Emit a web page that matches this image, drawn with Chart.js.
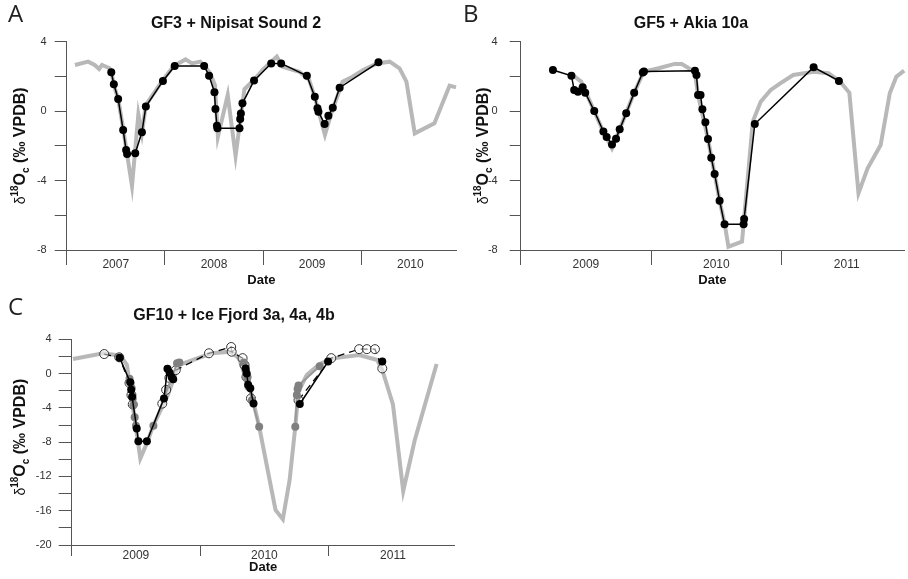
<!DOCTYPE html>
<html>
<head>
<meta charset="utf-8">
<script src="https://cdn.jsdelivr.net/npm/chart.js@4.4.1/dist/chart.umd.min.js"></script>
<style>
    body { margin: 0; background: #fff; width: 908px; height: 579px; overflow: hidden; position: relative; }
    canvas { position: absolute; }
</style>
</head>
<body>
<canvas id="panelA" width="460" height="290" style="left:0;top:0"></canvas>
<canvas id="panelB" width="448" height="290" style="left:460px;top:0"></canvas>
<canvas id="panelC" width="460" height="289" style="left:0;top:290px"></canvas>
<script>
const FONT = '"Liberation Sans", Arial, sans-serif';
const AXIS = '#555';

// Panel A - GF3 predicted vs Nipisat Sound 2 shell
const gf3Dates = [2007.084, 2007.218, 2007.285, 2007.33, 2007.36, 2007.436, 2007.454, 2007.48, 2007.524, 2007.575, 2007.61, 2007.665,
    2007.73, 2007.766, 2007.806, 2007.98, 2008.09, 2008.21, 2008.276, 2008.36, 2008.41, 2008.46, 2008.51, 2008.54, 2008.64, 2008.72,
    2008.81, 2008.915, 2009.0, 2009.14, 2009.20, 2009.37, 2009.47, 2009.527, 2009.63, 2009.69, 2009.81, 2009.91, 2010.02, 2010.16,
    2010.29, 2010.39, 2010.46, 2010.545, 2010.745, 2010.90, 2010.965];
const gf3Values = [2.66, 2.85, 2.66, 2.43, 2.66, 2.47, 2.3, 1.5, 0.7, -1.0, -2.3, -4.31,
    -0.18, -1.28, 0.35, 1.8, 2.6, 2.98, 2.75, 2.85, 2.56, 2.2, 1.5, -1.47, 0.93, -2.58,
    1.26, 1.85, 2.4, 3.14, 2.56, 2.27, 1.79, 0.8, -1.37, -0.22, 1.70, 1.98, 2.37, 2.75,
    2.85, 2.47, 1.70, -1.28, -0.70, 1.47, 1.37];
const nipisatDates = [2007.454, 2007.48, 2007.524, 2007.575, 2007.605, 2007.615, 2007.698, 2007.766, 2007.806, 2007.98, 2008.10,
    2008.40, 2008.45, 2008.505, 2008.515, 2008.53, 2008.535, 2008.76, 2008.767, 2008.774, 2008.79, 2008.908, 2009.083, 2009.184,
    2009.446, 2009.527, 2009.554, 2009.564, 2009.627, 2009.665, 2009.71, 2009.78, 2010.175];
const nipisatValues = [2.24, 1.55, 0.70, -1.09, -2.24, -2.47, -2.43, -1.22, 0.26, 1.74, 2.60,
    2.60, 2.04, 1.09, 0.12, -0.84, -0.99, -0.99, -0.45, -0.13, 0.45, 1.76, 2.75, 2.75,
    2.04, 0.83, 0.16, -0.03, -0.74, -0.26, 0.20, 1.35, 2.81];

// Panel B - GF5 predicted vs Akia 10a shell
const gf5Dates = [2009.39, 2009.463, 2009.564, 2009.634, 2009.70, 2009.759, 2009.87, 2009.943, 2010.057, 2010.18, 2010.235, 2010.335,
    2010.36, 2010.436, 2010.525, 2010.563, 2010.593, 2010.697, 2010.78, 2010.84, 2010.917, 2010.99, 2011.09, 2011.246, 2011.36,
    2011.45, 2011.52, 2011.59, 2011.66, 2011.76, 2011.83, 2011.88, 2011.94];
const gf5Values = [2.14, 1.70, 0.0, -1.2, -2.14, -1.05, 1.06, 2.27, 2.47, 2.72, 2.72, 2.27,
    0.9, -1.6, -5.16, -6.46, -7.81, -7.52, -0.6, 0.54, 1.22, 1.60, 2.08, 2.27, 2.18,
    1.70, 1.06, -4.73, -3.29, -1.95, 1.03, 1.98, 2.33];
const akiaDates = [2009.247, 2009.389, 2009.41, 2009.439, 2009.475, 2009.495, 2009.564, 2009.634, 2009.659, 2009.70, 2009.731,
    2009.759, 2009.809, 2009.87, 2009.936, 2009.945, 2010.336, 2010.348, 2010.360, 2010.379, 2010.393, 2010.416, 2010.436,
    2010.461, 2010.487, 2010.525, 2010.563, 2010.709, 2010.713, 2010.795, 2011.246, 2011.44];
const akiaValues = [2.37, 2.04, 1.22, 1.11, 1.37, 1.06, 0.01, -1.17, -1.49, -1.92, -1.59,
    -1.05, -0.12, 1.06, 2.23, 2.28, 2.32, 2.08, 0.93, 0.93, 0.11, -0.64, -1.60,
    -2.68, -3.62, -5.16, -6.52, -6.52, -6.21, -0.74, 2.53, 1.74];

// Panel C - GF10 predicted vs Ice Fjord 3a, 4a, 4b (null = gap in the shell record)
const gf10Dates = [2009.01, 2009.245, 2009.38, 2009.43, 2009.534, 2009.59, 2009.634, 2009.743, 2009.833, 2010.088, 2010.24, 2010.30,
    2010.395, 2010.459, 2010.586, 2010.643, 2010.696, 2010.74, 2010.765, 2010.829, 2010.93, 2011.034, 2011.238, 2011.378,
    2011.417, 2011.50, 2011.58, 2011.67, 2011.84];
const gf10Values = [1.7, 2.37, 2.09, 1.0, -9.89, -7.95, -6.08, -2.7, 1.0, 2.37, 2.56, 1.8,
    -2.11, -6.2, -15.9, -17.0, -12.4, -6.2, -2.11, -0.17, 1.12, 1.78, 2.17, 1.58,
    0.42, -3.6, -13.7, -7.75, 1.12];
const ice3aDates = [2009.373, 2009.455, 2009.463, 2009.47, 2009.506, 2009.519, 2009.585, 2009.718, 2009.745, 2009.762, 2009.778,
    2009.79, null, 2010.354, 2010.362, 2010.373, 2010.39, 2010.415, null, 2010.775, 2010.995, null, 2011.417];
const ice3aValues = [1.86, -1.0, -1.9, -2.7, -6.4, -7.9, -7.9, -2.9, 0.55, 0.1, -0.4,
    -0.65, null, 0.6, 0.0, -1.3, -1.7, -3.5, null, -3.55, 1.4, null, 1.4];
const ice4aDates = [2009.45, 2009.467, 2009.475, 2009.48, 2009.49, 2009.50, null, 2009.636, 2009.82, 2009.838, null, 2010.34, 2010.355,
    2010.365, 2010.375, 2010.402, 2010.459, null, 2010.74, 2010.752, 2010.758, 2010.765, 2010.93];
const ice4aValues = [-0.6, -1.7, -2.9, -3.7, -5.1, -6.1, null, -6.1, 1.2, 1.3, null, 1.3, 0.3,
    -0.6, -1.5, -3.1, -6.2, null, -6.2, -2.5, -1.8, -1.4, 0.85];
const ice4bDates = [2009.253, 2009.37, 2009.45, 2009.465, 2009.475, null, 2009.705, 2009.735, 2009.76, 2009.81, 2010.068, 2010.241,
    2010.245, 2010.33, 2010.345, 2010.36, 2010.395, null, 2010.765, 2011.02, 2011.237, 2011.297, 2011.36, 2011.417];
const ice4bValues = [2.28, 1.9, -1.1, -2.5, -3.6, null, -3.5, -1.9, -0.5, 0.4, 2.37, 3.1,
    2.55, 1.8, 1.0, -0.4, -2.9, null, -3.1, 1.8, 2.85, 2.85, 2.85, 0.6];

// axis ticks
const yTicksAB = [-8, -6, -4, -2, 0, 2, 4];
const yTicksC = [-20, -18, -16, -14, -12, -10, -8, -6, -4, -2, 0, 2, 4];
const yearsA = [2007, 2008, 2009, 2010];
const yearsBC = [2009, 2010, 2011];

function series(xs, ys) {
    return xs.map((x, i) => ({ x: x, y: ys[i] }));
}

// year boundaries get a tick mark, mid-years carry the label
function yearTicks(years) {
    const out = [];
    years.forEach(y => { out.push(y); out.push(y + 0.5); });
    return out;
}

const panelLabels = {
    id: 'panelLabels',
    afterDraw(chart, args, opts) {
        const ctx = chart.ctx;
        ctx.save();
        ctx.fillStyle = '#222';
        ctx.font = '24px "Open Sans"';
        ctx.textBaseline = 'alphabetic';
        ctx.fillText(opts.letter, opts.letterX, opts.letterY);

        const parts = [
            { t: 'δ', font: '14px ' + FONT, dy: 5 },
            { t: '18', font: 'bold 10px ' + FONT, dy: -2 },
            { t: 'O', font: 'bold 16px ' + FONT, dy: 5 },
            { t: 'c', font: 'bold 10px ' + FONT, dy: 9 },
            { t: ' (‰ VPDB)', font: 'bold 16px ' + FONT, dy: 5 }
        ];
        let total = 0;
        parts.forEach(p => { ctx.font = p.font; total += ctx.measureText(p.t).width; });
        const cy = (chart.chartArea.top + chart.chartArea.bottom) / 2 + (opts.titleShift || 0);
        ctx.translate(opts.titleX, cy);
        ctx.rotate(-Math.PI / 2);
        ctx.fillStyle = '#111';
        let x = -total / 2;
        parts.forEach(p => {
            ctx.font = p.font;
            ctx.fillText(p.t, x, p.dy);
            x += ctx.measureText(p.t).width;
        });
        ctx.restore();
    }
};

function panelOptions(p) {
    return {
        responsive: false,
        animation: false,
        layout: { padding: { left: p.padLeft, right: 0, top: 0, bottom: 0 } },
        plugins: {
            legend: { display: false },
            tooltip: { enabled: false },
            title: {
                display: true,
                text: p.title,
                color: '#111',
                font: { family: FONT, size: 16, weight: 'bold' },
                padding: { top: p.titleTop, bottom: p.titleBottom }
            },
            panelLabels: { letter: p.letter, letterX: p.letterX, letterY: p.letterY, titleX: p.yTitleX, titleShift: p.yTitleShift }
        },
        scales: {
            x: {
                type: 'linear',
                min: p.xMin,
                max: p.xMax,
                afterBuildTicks: s => { s.ticks = yearTicks(p.years).filter(v => v <= p.xMax).map(v => ({ value: v })); },
                afterFit: s => { s.height = p.xHeight; },
                grid: {
                    drawOnChartArea: false,
                    drawTicks: true,
                    tickLength: p.xTickLen,
                    tickWidth: 1,
                    tickColor: c => (c.tick && Number.isInteger(c.tick.value)) ? AXIS : 'rgba(0,0,0,0)'
                },
                border: { display: true, color: AXIS, width: 1 },
                ticks: {
                    padding: p.xLabelPad,
                    color: '#333',
                    autoSkip: false,
                    maxRotation: 0,
                    font: { family: FONT, size: 12 },
                    callback: v => Number.isInteger(v) ? '' : String(Math.floor(v))
                },
                title: {
                    display: true,
                    text: 'Date',
                    color: '#111',
                    font: { family: FONT, size: 13, weight: 'bold' },
                    padding: { top: 0, bottom: p.dateBottom }
                }
            },
            y: {
                type: 'linear',
                min: p.yMin,
                max: 4,
                afterBuildTicks: s => { s.ticks = p.yTicks.map(v => ({ value: v })); },
                afterFit: s => { s.width = p.yWidth; },
                grid: { drawOnChartArea: false, drawTicks: true, tickLength: p.yTickLen, tickColor: AXIS, tickWidth: 1 },
                border: { display: true, color: AXIS, width: 1 },
                ticks: {
                    padding: p.yLabelPad,
                    color: '#333',
                    font: { family: FONT, size: 11 },
                    callback: v => (v % 4 === 0) ? String(v) : ''
                }
            }
        }
    };
}

function modelLine(xs, ys) {
    return {
        data: series(xs, ys), showLine: true, borderColor: '#b8b8b8', borderWidth: 4,
        pointRadius: 0, order: 10, clip: false
    };
}

function shellLine(xs, ys, style) {
    return Object.assign({
        data: series(xs, ys), showLine: true, borderColor: '#000', borderWidth: 1.5,
        pointRadius: 4, pointBackgroundColor: '#000', pointBorderColor: '#000', pointBorderWidth: 0,
        order: 1, clip: false, spanGaps: false
    }, style || {});
}

new Chart(document.getElementById('panelA'), {
    type: 'scatter',
    data: { datasets: [shellLine(nipisatDates, nipisatValues), modelLine(gf3Dates, gf3Values)] },
    options: panelOptions({
        title: 'GF3 + Nipisat Sound 2', letter: 'A', letterX: 8, letterY: 22, yTitleX: 20,
        padLeft: 12, yWidth: 54.7, xMin: 2007, xMax: 2010.965, years: yearsA, yMin: -8, yTicks: yTicksAB,
        titleTop: 14, titleBottom: 8.5, xHeight: 40, xTickLen: 15, xLabelPad: -7.2, dateBottom: 2.2,
        yTickLen: 12, yLabelPad: 8
    }),
    plugins: [panelLabels]
});

new Chart(document.getElementById('panelB'), {
    type: 'scatter',
    data: { datasets: [shellLine(akiaDates, akiaValues), modelLine(gf5Dates, gf5Values)] },
    options: panelOptions({
        title: 'GF5 + Akia 10a', letter: 'B', letterX: 3, letterY: 22, yTitleX: 23,
        padLeft: 14, yWidth: 46.7, xMin: 2009, xMax: 2011.939, years: yearsBC, yMin: -8, yTicks: yTicksAB,
        titleTop: 14, titleBottom: 8.5, xHeight: 40, xTickLen: 15, xLabelPad: -7.2, dateBottom: 2.2,
        yTickLen: 11, yLabelPad: 12
    }),
    plugins: [panelLabels]
});

new Chart(document.getElementById('panelC'), {
    type: 'scatter',
    data: {
        datasets: [
            shellLine(ice3aDates, ice3aValues, { order: 1 }),
            shellLine(ice4aDates, ice4aValues, {
                order: 2, borderColor: '#999', borderWidth: 2,
                pointBackgroundColor: '#808080', pointBorderColor: '#808080'
            }),
            shellLine(ice4bDates, ice4bValues, {
                order: 3, borderDash: [7, 5], borderWidth: 1.3,
                pointBackgroundColor: 'rgba(255,255,255,0.5)', pointBorderColor: '#333', pointBorderWidth: 1, pointRadius: 4.5
            }),
            modelLine(gf10Dates, gf10Values)
        ]
    },
    options: panelOptions({
        title: 'GF10 + Ice Fjord 3a, 4a, 4b', letter: 'C', letterX: 8, letterY: 25, yTitleX: 20, yTitleShift: -5,
        padLeft: 8, yWidth: 63.7, xMin: 2009, xMax: 2011.979, years: yearsBC, yMin: -20, yTicks: yTicksC,
        titleTop: 16, titleBottom: 14.1, xHeight: 34, xTickLen: 11, xLabelPad: -7.2, dateBottom: 4,
        yTickLen: 13, yLabelPad: 7
    }),
    plugins: [panelLabels]
});
</script>
</body>
</html>
